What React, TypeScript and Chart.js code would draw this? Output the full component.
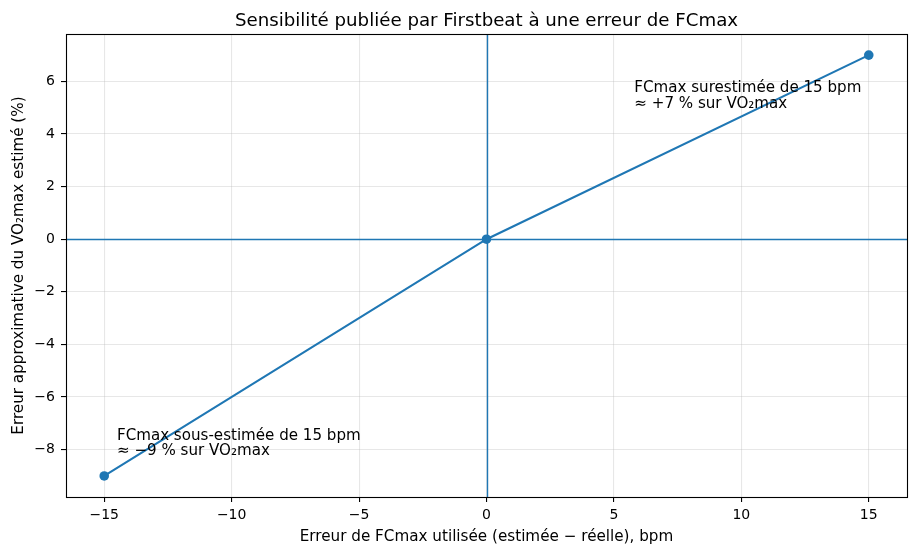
import React, { useEffect, useRef } from "react";
import { Chart, registerables } from "chart.js";

Chart.register(...registerables);

// ---- data ----
const xValues = [-15, 0, 15];
const yValues = [-9, 0, 7];
const xTicks = [-15, -10, -5, 0, 5, 10, 15];
const yTicks = [-8, -6, -4, -2, 0, 2, 4, 6];
const xRange = [-16.5, 16.5];
const yRange = [-9.8, 7.8];
const titleText = "Sensibilité publiée par Firstbeat à une erreur de FCmax";
const xLabel = "Erreur de FCmax utilisée (estimée − réelle), bpm";
const yLabel = "Erreur approximative du VO₂max estimé (%)";
const annotations = [
  { x: 5.8, y: 5.0, lines: ["FCmax surestimée de 15 bpm", "≈ +7 % sur VO₂max"] },
  { x: -14.5, y: -8.2, lines: ["FCmax sous-estimée de 15 bpm", "≈ −9 % sur VO₂max"] },
];

const BLUE = "#1f77b4";
const FONT = "'DejaVu Sans', sans-serif";

const fmt = (v: number) => (v < 0 ? "\u2212" + Math.abs(v) : String(v));

const framePlugin = {
  id: "frame",
  beforeDatasetsDraw(chart: any) {
    const { ctx, chartArea, scales } = chart;
    const { left, right, top, bottom } = chartArea;
    const x0 = Math.round(scales.x.getPixelForValue(0)) + 0.5;
    const y0 = Math.round(scales.y.getPixelForValue(0)) + 0.5;
    ctx.save();
    ctx.strokeStyle = BLUE;
    ctx.lineWidth = 1.4;
    ctx.beginPath();
    ctx.moveTo(left, y0);
    ctx.lineTo(right, y0);
    ctx.moveTo(x0, top);
    ctx.lineTo(x0, bottom);
    ctx.stroke();
    ctx.restore();
  },
  afterDatasetsDraw(chart: any) {
    const { ctx, chartArea, scales } = chart;
    const { left, right, top, bottom } = chartArea;
    ctx.save();
    ctx.fillStyle = "#000";
    ctx.font = `15.1px ${FONT}`;
    ctx.textAlign = "left";
    ctx.textBaseline = "alphabetic";
    const lh = 15.3;
    for (const a of annotations) {
      const px = scales.x.getPixelForValue(a.x);
      const py = scales.y.getPixelForValue(a.y);
      const n = a.lines.length;
      a.lines.forEach((line, i) => {
        ctx.fillText(line, px, py - (n - 1 - i) * lh);
      });
    }
    ctx.strokeStyle = "#000";
    ctx.lineWidth = 1.1;
    ctx.strokeRect(
      Math.round(left) + 0.5,
      Math.round(top) + 0.5,
      Math.round(right) - Math.round(left),
      Math.round(bottom) - Math.round(top)
    );
    ctx.restore();
  },
};

export default function App() {
  const ref = useRef<HTMLCanvasElement | null>(null);

  useEffect(() => {
    document.body.style.margin = "0";
    Chart.defaults.color = "#000";
    Chart.defaults.font.family = FONT;
    const canvas = ref.current!;
    const chart = new Chart(canvas, {
      type: "line",
      data: {
        datasets: [
          {
            data: xValues.map((x, i) => ({ x, y: yValues[i] })),
            borderColor: BLUE,
            backgroundColor: BLUE,
            borderWidth: 2.1,
            pointRadius: 4.8,
            pointBackgroundColor: BLUE,
            pointBorderColor: BLUE,
            pointBorderWidth: 0,
            tension: 0,
            fill: false,
          },
        ],
      },
      options: {
        responsive: false,
        animation: false,
        devicePixelRatio: 1,
        layout: { padding: { left: 0, right: 12, top: 0, bottom: 0 } },
        plugins: {
          legend: { display: false },
          tooltip: { enabled: false },
          title: {
            display: true,
            text: titleText,
            fullSize: false,
            color: "#000",
            font: { family: FONT, size: 18.2, weight: "normal" },
            padding: { top: 10.2, bottom: 2 },
          },
        },
        scales: {
          x: {
            type: "linear",
            min: xRange[0],
            max: xRange[1],
            afterFit(scale: any) {
              scale.height = 59;
            },
            afterBuildTicks(scale: any) {
              scale.ticks = xTicks.map((v) => ({ value: v }));
            },
            ticks: {
              callback: (v: any) => fmt(Number(v)),
              font: { family: FONT, size: 14 },
              color: "#000",
              padding: 5,
              maxRotation: 0,
              autoSkip: false,
            },
            grid: {
              color: "rgba(176,176,176,0.3)",
              lineWidth: 1.1,
              tickColor: "#000",
              tickLength: 5,
              tickWidth: 1.1,
            },
            border: { display: false },
            title: {
              display: true,
              text: xLabel,
              color: "#000",
              font: { family: FONT, size: 15.2 },
              padding: { top: 0, bottom: 9.7 },
            },
          },
          y: {
            type: "linear",
            min: yRange[0],
            max: yRange[1],
            afterFit(scale: any) {
              scale.width = 66;
            },
            afterBuildTicks(scale: any) {
              scale.ticks = yTicks.map((v) => ({ value: v }));
            },
            ticks: {
              callback: (v: any) => fmt(Number(v)),
              font: { family: FONT, size: 14 },
              color: "#000",
              padding: 6,
              autoSkip: false,
            },
            grid: {
              color: "rgba(176,176,176,0.3)",
              lineWidth: 1.1,
              tickColor: "#000",
              tickLength: 5,
              tickWidth: 1.1,
            },
            border: { display: false },
            title: {
              display: true,
              text: yLabel,
              color: "#000",
              font: { family: FONT, size: 15.2 },
              padding: { top: 10, bottom: 0 },
            },
          },
        },
      },
      plugins: [framePlugin],
    } as any);
    return () => chart.destroy();
  }, []);

  return (
    <div style={{ position: "relative", width: 919, height: 556, background: "#fff" }}>
      <canvas ref={ref} width={919} height={556} style={{ display: "block" }} />
    </div>
  );
}
